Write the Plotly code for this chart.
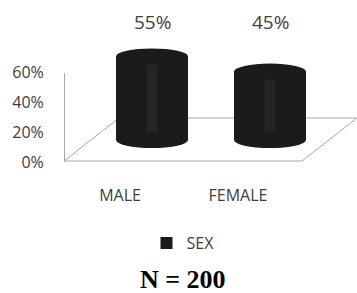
import plotly.graph_objects as go

# ---- data ----
categories = ["MALE", "FEMALE"]
values = [55, 45]
series_name = "SEX"
tick_values = [0, 20, 40, 60]
tick_labels = ["0%", "20%", "40%", "60%"]
sample_size = 200

W, H = 357, 293


def py(p):
    return 1 - p / H


def px(p):
    return p / W


BAR_FRAC = 0.61
CAT_PX = 118
bar_px = BAR_FRAC * CAT_PX
idx = list(range(len(categories)))

# cylinder axis: 1.52 px per unit, baseline at pixel 140
PPU = 1.52
BASE = 140
Y2_LO, Y2_HI = -10, 66

fig = go.Figure()

fig.add_trace(go.Bar(
    x=idx, y=values, xaxis="x2", yaxis="y2", width=BAR_FRAC,
    marker=dict(color="#1b1b1b", line=dict(width=0)),
    name=series_name, showlegend=True, hoverinfo="skip",
))
fig.add_trace(go.Bar(
    x=idx, y=values, xaxis="x2", yaxis="y2", width=BAR_FRAC * 0.15,
    marker=dict(color="#252525", line=dict(width=0)),
    showlegend=False, hoverinfo="skip",
))
fig.add_trace(go.Scatter(
    x=idx, y=values, xaxis="x", yaxis="y", mode="markers",
    marker=dict(opacity=0, size=1), showlegend=False, hoverinfo="skip",
))

shapes = []
fl = [(64, 161), (302, 161), (357, 118), (119, 118)]
path = "M " + " L ".join(f"{px(a):.4f},{py(b):.4f}" for a, b in fl) + " Z"
shapes.append(dict(type="path", xref="paper", yref="paper", path=path,
                   line=dict(color="#a8a8a8", width=1), layer="below"))

for i, v in zip(idx, values):
    for anchor in (0, v):
        shapes.append(dict(
            type="circle", xref="x2", yref="y2",
            xsizemode="pixel", ysizemode="pixel",
            xanchor=i, yanchor=anchor,
            x0=-bar_px / 2, x1=bar_px / 2, y0=-8, y1=8,
            fillcolor="#1b1b1b", line=dict(width=0), layer="above",
        ))

annotations = []
for i, v in zip(idx, values):
    annotations.append(dict(
        x=i, xref="x2", y=py(22), yref="paper", text=f"{v}%",
        showarrow=False, font=dict(family="Open Sans", size=19, color="#404040"),
        xanchor="center", yanchor="middle",
    ))
annotations.append(dict(
    x=px(183.5), y=py(279), xref="paper", yref="paper",
    text=f"<b>N = {sample_size}</b>", showarrow=False,
    font=dict(family="Liberation Serif", size=26, color="#000000"),
    xanchor="center", yanchor="middle",
))

fig.update_layout(
    width=W, height=H, autosize=False,
    margin=dict(l=0, r=0, t=0, b=0, pad=0, autoexpand=False),
    paper_bgcolor="white", plot_bgcolor="rgba(0,0,0,0)",
    barmode="overlay",
    font=dict(family="Open Sans", color="#404040"),
    shapes=shapes, annotations=annotations,
    xaxis=dict(domain=[px(61), px(297)], range=[-0.5, 1.5], tickmode="array",
               tickvals=idx, ticktext=categories, showgrid=False, zeroline=False,
               showline=False, ticks="outside", ticklen=19,
               tickcolor="rgba(0,0,0,0)", tickfont=dict(size=16, color="#404040"),
               anchor="y", fixedrange=True, automargin=False),
    yaxis=dict(domain=[py(162), py(72.5)], range=[0, 60], tickmode="array",
               tickvals=tick_values, ticktext=tick_labels, showgrid=False,
               zeroline=False, showline=True, linecolor="#a8a8a8", linewidth=1,
               ticks="outside", ticklen=17, tickcolor="rgba(0,0,0,0)",
               tickfont=dict(size=16, color="#404040"),
               anchor="free", position=px(64), fixedrange=True, automargin=False),
    xaxis2=dict(domain=[px(93), px(329)], range=[-0.5, 1.5], visible=False,
                anchor="y2", fixedrange=True),
    yaxis2=dict(domain=[py(BASE - Y2_LO * PPU), py(BASE - Y2_HI * PPU)],
                range=[Y2_LO, Y2_HI], visible=False,
                anchor="x2", fixedrange=True),
    legend=dict(orientation="h", x=px(183), y=py(243), xanchor="center",
                yanchor="middle", font=dict(size=16, color="#404040"),
                bgcolor="rgba(0,0,0,0)"),
    showlegend=True,
)

fig.write_html(
    "out.html",
    config={"displayModeBar": False, "responsive": False},
    post_script="document.body.style.margin='0';document.body.style.overflow='hidden';",
)
